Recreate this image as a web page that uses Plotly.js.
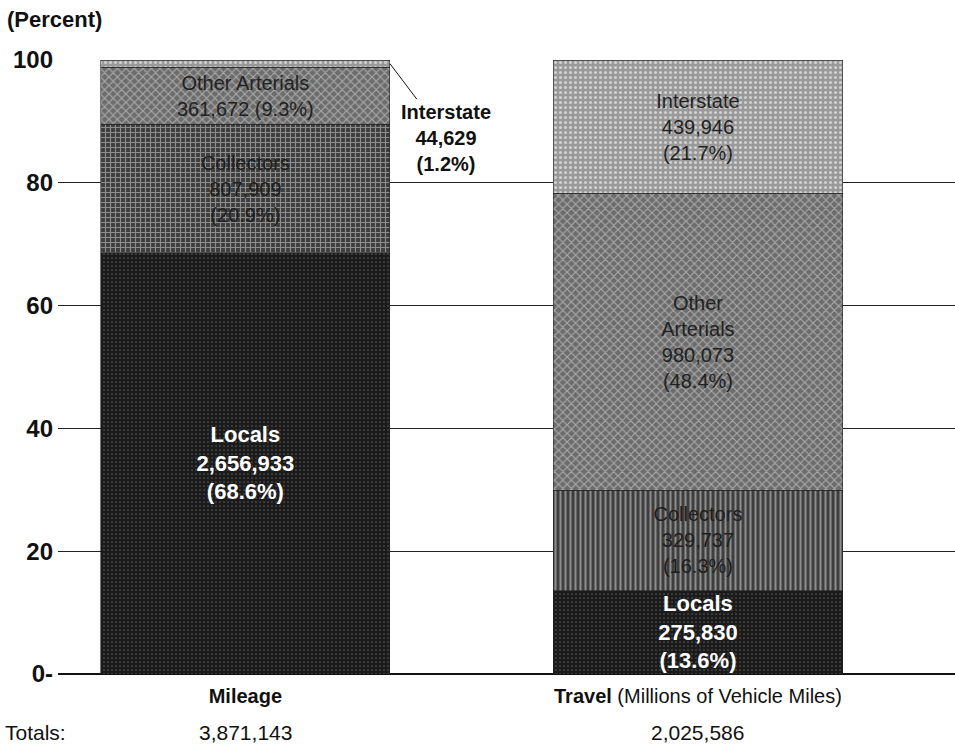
<!DOCTYPE html>
<html>
<head>
<meta charset="utf-8">
<script src="https://cdn.plot.ly/plotly-3.0.1.min.js"></script>
<style>html,body{margin:0;padding:0;background:#fff;}#chart{width:955px;height:747px;}</style>
</head>
<body>
<div id="chart"></div>
<script>
// ---- data ----
const categories = ["Mileage", "Travel"];
const categoryLabels = ["<b>Mileage</b>", "<b>Travel</b> (Millions of Vehicle Miles)"];
const totals = ["3,871,143", "2,025,586"];
const localsValues = [2656933, 275830];
const localsPct = [68.6, 13.6];
const collectorsValues = [807909, 329737];
const collectorsPct = [20.9, 16.3];
const otherArterialsValues = [361672, 980073];
const otherArterialsPct = [9.3, 48.4];
const interstateValues = [44629, 439946];
const interstatePct = [1.2, 21.7];
const yTicks = [0, 20, 40, 60, 80, 100];
const yTickText = ["0-", "20", "40", "60", "80", "100"];

const fmt = v => v.toLocaleString("en-US");
const xPos = [0, 1];
const FONT = "Liberation Sans, Arial, Helvetica, sans-serif";
const barWidth = 0.639;

function segTrace(name, pct, textArr, style) {
  return {
    type: "bar", name: name, x: xPos, y: pct,
    width: barWidth,
    text: textArr,
    textposition: "inside", insidetextanchor: "middle", textangle: 0,
    constraintext: "none",
    textfont: {family: FONT, color: style.textColor, size: style.textSize},
    marker: {
      color: style.bg,
      line: {color: "#222", width: 0.6},
      pattern: {shape: style.shape, bgcolor: style.bg, fgcolor: style.fg,
                size: style.size, solidity: style.solidity, fillmode: "replace"}
    },
    hoverinfo: "skip"
  };
}

const traces = [
  segTrace("Locals", localsPct,
    localsValues.map((v, i) => "<b>Locals<br>" + fmt(v) + "<br>(" + localsPct[i].toFixed(1) + "%)</b>"),
    {textColor: "#ffffff", textSize: 22, bg: "#1b1b1b", fg: "#555555", shape: ".", size: 4, solidity: 0.15}),
  segTrace("Collectors", collectorsPct,
    collectorsValues.map((v, i) => "Collectors<br>" + fmt(v) + "<br>(" + collectorsPct[i].toFixed(1) + "%)"),
    {textColor: "#1e1e1e", textSize: 20, bg: "#3e3e3e", fg: "#8e8e8e", shape: ["+", "|"], size: 5, solidity: 0.4}),
  segTrace("Other Arterials", otherArterialsPct,
    otherArterialsValues.map((v, i) => i === 0
      ? "Other Arterials<br>" + fmt(v) + " (" + otherArterialsPct[i].toFixed(1) + "%)"
      : "Other<br>Arterials<br>" + fmt(v) + "<br>(" + otherArterialsPct[i].toFixed(1) + "%)"),
    {textColor: "#222222", textSize: 20, bg: "#6c6c6c", fg: "#a9a9a9", shape: "x", size: 6, solidity: 0.35}),
  segTrace("Interstate", interstatePct,
    interstateValues.map((v, i) => i === 0 ? "" :
      "Interstate<br>" + fmt(v) + "<br>(" + interstatePct[i].toFixed(1) + "%)"),
    {textColor: "#222222", textSize: 20, bg: "#999999", fg: "#d0d0d0", shape: ".", size: 5, solidity: 0.3})
];

// stacked top of mileage interstate segment
const mileTop = localsPct[0] + collectorsPct[0] + otherArterialsPct[0] + interstatePct[0];

const annotations = [
  {xref: "paper", yref: "paper", x: -0.059, y: 1.066, xanchor: "left", yanchor: "middle",
   text: "<b>(Percent)</b>", showarrow: false, font: {family: FONT, size: 22, color: "#111"}},
  {xref: "x", yref: "y", x: xPos[0] + barWidth / 2, y: mileTop - 0.6,
   text: "<b>Interstate<br>" + fmt(interstateValues[0]) + "<br>(" + interstatePct[0].toFixed(1) + "%)</b>",
   showarrow: true, arrowhead: 0, arrowwidth: 1, arrowcolor: "#111", ax: 56, ay: 74,
   font: {family: FONT, size: 20, color: "#111"}, align: "center"},
  {xref: "paper", yref: "paper", x: -0.061, y: -0.096, xanchor: "left", yanchor: "middle",
   text: "Totals:", showarrow: false, font: {family: FONT, size: 21, color: "#111"}},
  {xref: "x", yref: "paper", x: xPos[0], y: -0.096, xanchor: "center", yanchor: "middle",
   text: totals[0], showarrow: false, font: {family: FONT, size: 21, color: "#111"}},
  {xref: "x", yref: "paper", x: xPos[1], y: -0.096, xanchor: "center", yanchor: "middle",
   text: totals[1], showarrow: false, font: {family: FONT, size: 21, color: "#111"}}
];

const layout = {
  width: 955, height: 747,
  margin: {l: 58, r: 0, t: 60, b: 73},
  barmode: "stack",
  showlegend: false,
  paper_bgcolor: "#ffffff", plot_bgcolor: "#ffffff",
  font: {family: FONT, color: "#111"},
  xaxis: {
    range: [-0.414, 1.568], tickvals: xPos, ticktext: categoryLabels,
    showgrid: false, zeroline: false, showline: false, ticks: "",
    tickfont: {family: FONT, size: 20, color: "#111"}, ticklabelstandoff: 8, fixedrange: true
  },
  yaxis: {
    range: [0, 100], tickvals: yTicks, ticktext: yTickText,
    showgrid: true, gridcolor: "#222", gridwidth: 1, zeroline: true, zerolinecolor: "#111", zerolinewidth: 1.5,
    showline: false, ticks: "", tickfont: {family: FONT, size: 24, color: "#111", weight: "bold"},
    ticklabelstandoff: 4, fixedrange: true
  },
  annotations: annotations
};

Plotly.newPlot("chart", traces, layout, {displayModeBar: false, staticPlot: true});
</script>
</body>
</html>
